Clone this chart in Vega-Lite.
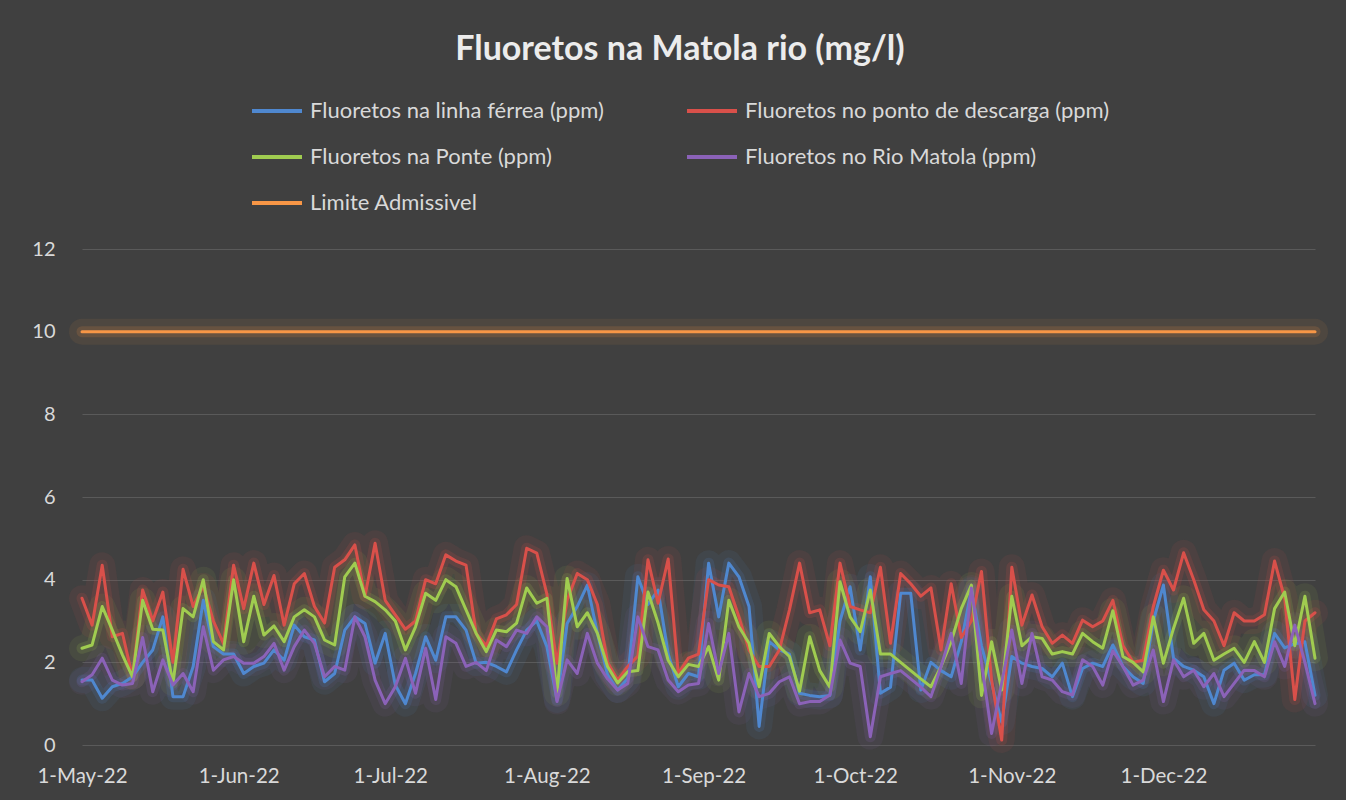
{
"$schema": "https://vega.github.io/schema/vega-lite/v6.json",
"width": 1233, "height": 496,
"autosize": {"type": "none"},
"padding": {"left": 82, "top": 249, "right": 31, "bottom": 55},
"background": "#404040",
"title": {"text": "Fluoretos na Matola rio (mg/l)", "font": "Lato", "fontSize": 34, "fontWeight": "bold", "color": "#ececec", "anchor": "middle", "frame": "bounds", "offset": 17},
"datasets": {"m": [
{"d":"2022-05-01","B":1.57,"R":3.55,"G":2.34,"P":1.53,"L":10},
{"d":"2022-05-03","B":1.57,"R":2.9,"G":2.42,"P":1.7,"L":10},
{"d":"2022-05-05","B":1.13,"R":4.35,"G":3.35,"P":2.1,"L":10},
{"d":"2022-05-07","B":1.41,"R":2.62,"G":2.78,"P":1.57,"L":10},
{"d":"2022-05-09","B":1.49,"R":2.7,"G":2.18,"P":1.45,"L":10},
{"d":"2022-05-11","B":1.65,"R":1.65,"G":1.65,"P":1.49,"L":10},
{"d":"2022-05-13","B":2.0,"R":3.75,"G":3.5,"P":2.6,"L":10},
{"d":"2022-05-15","B":2.3,"R":3.0,"G":2.8,"P":1.29,"L":10},
{"d":"2022-05-17","B":3.1,"R":3.7,"G":2.78,"P":2.06,"L":10},
{"d":"2022-05-19","B":1.17,"R":2.0,"G":1.5,"P":1.45,"L":10},
{"d":"2022-05-21","B":1.17,"R":4.25,"G":3.3,"P":1.73,"L":10},
{"d":"2022-05-23","B":1.9,"R":3.35,"G":3.1,"P":1.29,"L":10},
{"d":"2022-05-25","B":3.5,"R":3.85,"G":4.0,"P":2.86,"L":10},
{"d":"2022-05-27","B":2.38,"R":3.0,"G":2.5,"P":1.81,"L":10},
{"d":"2022-05-29","B":2.2,"R":2.45,"G":2.3,"P":2.06,"L":10},
{"d":"2022-05-31","B":2.2,"R":4.35,"G":4.0,"P":2.14,"L":10},
{"d":"2022-06-02","B":1.73,"R":3.3,"G":2.5,"P":1.98,"L":10},
{"d":"2022-06-04","B":1.9,"R":4.4,"G":3.6,"P":1.98,"L":10},
{"d":"2022-06-06","B":1.98,"R":3.4,"G":2.66,"P":2.14,"L":10},
{"d":"2022-06-08","B":2.3,"R":4.1,"G":2.88,"P":2.46,"L":10},
{"d":"2022-06-10","B":2.05,"R":2.9,"G":2.5,"P":1.81,"L":10},
{"d":"2022-06-12","B":2.9,"R":3.9,"G":3.1,"P":2.38,"L":10},
{"d":"2022-06-14","B":2.62,"R":4.15,"G":3.27,"P":2.78,"L":10},
{"d":"2022-06-16","B":2.54,"R":3.35,"G":3.1,"P":2.46,"L":10},
{"d":"2022-06-18","B":1.53,"R":2.95,"G":2.54,"P":1.65,"L":10},
{"d":"2022-06-20","B":1.73,"R":4.3,"G":2.42,"P":1.9,"L":10},
{"d":"2022-06-22","B":2.78,"R":4.48,"G":4.07,"P":1.81,"L":10},
{"d":"2022-06-24","B":3.1,"R":4.84,"G":4.4,"P":3.1,"L":10},
{"d":"2022-06-26","B":2.94,"R":3.6,"G":3.6,"P":2.62,"L":10},
{"d":"2022-06-28","B":1.98,"R":4.88,"G":3.47,"P":1.57,"L":10},
{"d":"2022-06-30","B":2.7,"R":3.5,"G":3.27,"P":1.0,"L":10},
{"d":"2022-07-02","B":1.45,"R":3.15,"G":3.0,"P":1.41,"L":10},
{"d":"2022-07-04","B":1.0,"R":2.8,"G":2.3,"P":2.1,"L":10},
{"d":"2022-07-06","B":1.73,"R":3.0,"G":2.86,"P":1.25,"L":10},
{"d":"2022-07-08","B":2.62,"R":4.0,"G":3.67,"P":2.34,"L":10},
{"d":"2022-07-10","B":2.05,"R":3.9,"G":3.5,"P":1.1,"L":10},
{"d":"2022-07-12","B":3.1,"R":4.6,"G":4.0,"P":2.62,"L":10},
{"d":"2022-07-14","B":3.1,"R":4.45,"G":3.83,"P":2.46,"L":10},
{"d":"2022-07-16","B":2.78,"R":4.35,"G":3.27,"P":1.9,"L":10},
{"d":"2022-07-18","B":1.98,"R":2.7,"G":2.7,"P":2.0,"L":10},
{"d":"2022-07-20","B":2.0,"R":2.4,"G":2.26,"P":1.8,"L":10},
{"d":"2022-07-22","B":1.9,"R":3.05,"G":2.78,"P":2.54,"L":10},
{"d":"2022-07-24","B":1.77,"R":3.15,"G":2.74,"P":2.38,"L":10},
{"d":"2022-07-26","B":2.3,"R":3.4,"G":2.95,"P":2.78,"L":10},
{"d":"2022-07-28","B":2.78,"R":4.76,"G":3.8,"P":2.7,"L":10},
{"d":"2022-07-30","B":3.0,"R":4.64,"G":3.43,"P":3.1,"L":10},
{"d":"2022-08-01","B":2.38,"R":3.65,"G":3.55,"P":2.86,"L":10},
{"d":"2022-08-03","B":1.09,"R":1.98,"G":1.25,"P":1.05,"L":10},
{"d":"2022-08-05","B":2.94,"R":3.5,"G":4.03,"P":2.06,"L":10},
{"d":"2022-08-07","B":3.35,"R":4.15,"G":2.86,"P":1.73,"L":10},
{"d":"2022-08-09","B":3.87,"R":4.0,"G":3.2,"P":2.7,"L":10},
{"d":"2022-08-11","B":2.7,"R":3.4,"G":2.7,"P":1.98,"L":10},
{"d":"2022-08-13","B":1.7,"R":2.0,"G":1.9,"P":1.6,"L":10},
{"d":"2022-08-15","B":1.33,"R":1.57,"G":1.5,"P":1.33,"L":10},
{"d":"2022-08-17","B":1.61,"R":1.9,"G":1.77,"P":1.49,"L":10},
{"d":"2022-08-19","B":4.07,"R":2.15,"G":1.8,"P":3.1,"L":10},
{"d":"2022-08-21","B":3.4,"R":4.48,"G":3.7,"P":2.38,"L":10},
{"d":"2022-08-23","B":3.75,"R":3.43,"G":2.95,"P":2.3,"L":10},
{"d":"2022-08-25","B":2.2,"R":4.5,"G":2.05,"P":1.57,"L":10},
{"d":"2022-08-27","B":1.41,"R":1.73,"G":1.65,"P":1.29,"L":10},
{"d":"2022-08-29","B":1.73,"R":2.1,"G":1.95,"P":1.45,"L":10},
{"d":"2022-08-31","B":1.65,"R":2.2,"G":1.9,"P":1.49,"L":10},
{"d":"2022-09-02","B":4.4,"R":4.0,"G":2.38,"P":2.94,"L":10},
{"d":"2022-09-04","B":3.1,"R":3.87,"G":1.57,"P":1.73,"L":10},
{"d":"2022-09-06","B":4.4,"R":3.83,"G":3.5,"P":2.7,"L":10},
{"d":"2022-09-08","B":4.07,"R":3.1,"G":2.86,"P":0.8,"L":10},
{"d":"2022-09-10","B":3.35,"R":2.3,"G":2.46,"P":1.73,"L":10},
{"d":"2022-09-12","B":0.45,"R":1.9,"G":1.41,"P":1.17,"L":10},
{"d":"2022-09-14","B":2.5,"R":1.9,"G":2.7,"P":1.25,"L":10},
{"d":"2022-09-16","B":2.3,"R":2.3,"G":2.38,"P":1.53,"L":10},
{"d":"2022-09-18","B":2.2,"R":3.27,"G":2.14,"P":1.65,"L":10},
{"d":"2022-09-20","B":1.25,"R":4.4,"G":1.3,"P":1.0,"L":10},
{"d":"2022-09-22","B":1.2,"R":3.2,"G":2.62,"P":1.05,"L":10},
{"d":"2022-09-24","B":1.17,"R":3.27,"G":1.8,"P":1.05,"L":10},
{"d":"2022-09-26","B":1.2,"R":2.4,"G":1.4,"P":1.21,"L":10},
{"d":"2022-09-28","B":3.0,"R":4.4,"G":3.95,"P":2.54,"L":10},
{"d":"2022-09-30","B":3.83,"R":3.35,"G":3.1,"P":1.98,"L":10},
{"d":"2022-10-02","B":2.3,"R":3.27,"G":2.74,"P":1.9,"L":10},
{"d":"2022-10-04","B":4.07,"R":3.2,"G":3.75,"P":0.2,"L":10},
{"d":"2022-10-06","B":1.25,"R":4.3,"G":2.2,"P":1.65,"L":10},
{"d":"2022-10-08","B":1.4,"R":2.46,"G":2.2,"P":1.73,"L":10},
{"d":"2022-10-10","B":3.67,"R":4.15,"G":2.0,"P":1.8,"L":10},
{"d":"2022-10-12","B":3.67,"R":3.9,"G":1.8,"P":1.6,"L":10},
{"d":"2022-10-14","B":1.33,"R":3.6,"G":1.6,"P":1.4,"L":10},
{"d":"2022-10-16","B":2.0,"R":3.8,"G":1.41,"P":1.17,"L":10},
{"d":"2022-10-18","B":1.8,"R":2.3,"G":1.9,"P":1.9,"L":10},
{"d":"2022-10-20","B":1.65,"R":3.9,"G":2.5,"P":2.7,"L":10},
{"d":"2022-10-22","B":2.5,"R":2.6,"G":3.3,"P":1.49,"L":10},
{"d":"2022-10-24","B":3.75,"R":3.0,"G":3.87,"P":3.8,"L":10},
{"d":"2022-10-26","B":2.4,"R":4.2,"G":1.2,"P":2.0,"L":10},
{"d":"2022-10-28","B":1.5,"R":1.57,"G":2.5,"P":0.28,"L":10},
{"d":"2022-10-30","B":0.55,"R":0.12,"G":1.33,"P":1.5,"L":10},
{"d":"2022-11-01","B":2.14,"R":4.3,"G":3.6,"P":2.78,"L":10},
{"d":"2022-11-03","B":1.98,"R":2.9,"G":2.4,"P":1.49,"L":10},
{"d":"2022-11-05","B":1.9,"R":3.63,"G":2.62,"P":2.7,"L":10},
{"d":"2022-11-07","B":1.85,"R":2.86,"G":2.58,"P":1.65,"L":10},
{"d":"2022-11-09","B":1.65,"R":2.46,"G":2.2,"P":1.57,"L":10},
{"d":"2022-11-11","B":1.98,"R":2.66,"G":2.26,"P":1.29,"L":10},
{"d":"2022-11-13","B":1.17,"R":2.46,"G":2.2,"P":1.21,"L":10},
{"d":"2022-11-15","B":1.85,"R":3.02,"G":2.7,"P":2.06,"L":10},
{"d":"2022-11-17","B":1.98,"R":2.86,"G":2.5,"P":1.9,"L":10},
{"d":"2022-11-19","B":1.9,"R":3.0,"G":2.34,"P":1.45,"L":10},
{"d":"2022-11-21","B":2.42,"R":3.5,"G":3.25,"P":2.28,"L":10},
{"d":"2022-11-23","B":1.9,"R":2.4,"G":2.14,"P":1.9,"L":10},
{"d":"2022-11-25","B":1.65,"R":2.0,"G":2.0,"P":1.45,"L":10},
{"d":"2022-11-27","B":1.49,"R":2.05,"G":1.77,"P":1.57,"L":10},
{"d":"2022-11-29","B":3.0,"R":3.35,"G":3.1,"P":2.3,"L":10},
{"d":"2022-12-01","B":3.87,"R":4.23,"G":1.98,"P":1.05,"L":10},
{"d":"2022-12-03","B":2.1,"R":3.75,"G":2.82,"P":2.06,"L":10},
{"d":"2022-12-05","B":1.9,"R":4.65,"G":3.55,"P":1.65,"L":10},
{"d":"2022-12-07","B":1.81,"R":4.0,"G":2.46,"P":1.81,"L":10},
{"d":"2022-12-09","B":1.65,"R":3.27,"G":2.7,"P":1.41,"L":10},
{"d":"2022-12-11","B":1.0,"R":3.0,"G":2.05,"P":1.73,"L":10},
{"d":"2022-12-13","B":1.81,"R":2.4,"G":2.2,"P":1.17,"L":10},
{"d":"2022-12-15","B":1.98,"R":3.2,"G":2.34,"P":1.49,"L":10},
{"d":"2022-12-17","B":1.57,"R":3.0,"G":2.0,"P":1.81,"L":10},
{"d":"2022-12-19","B":1.7,"R":3.0,"G":2.5,"P":1.8,"L":10},
{"d":"2022-12-21","B":1.7,"R":3.15,"G":2.0,"P":1.65,"L":10},
{"d":"2022-12-23","B":2.7,"R":4.45,"G":3.3,"P":2.5,"L":10},
{"d":"2022-12-25","B":2.35,"R":3.55,"G":3.7,"P":1.9,"L":10},
{"d":"2022-12-27","B":2.45,"R":1.1,"G":2.4,"P":2.9,"L":10},
{"d":"2022-12-29","B":2.5,"R":3.0,"G":3.6,"P":2.0,"L":10},
{"d":"2022-12-31","B":1.2,"R":3.2,"G":2.1,"P":1.0,"L":10}
]},
"data": {"name": "m"},
"transform": [{"fold": ["B", "R", "G", "P", "L"], "as": ["s", "v"]}],
"encoding": {
  "x": {"field": "d", "type": "temporal", "title": null,
        "scale": {"type": "utc", "domain": [{"year": 2022, "month": 5, "date": 1, "utc": true}, {"year": 2022, "month": 12, "date": 31, "utc": true}], "nice": false},
        "axis": {"format": "%-d-%b-%y", "tickCount": {"interval": "month", "step": 1}, "labelFontSize": 20.5, "labelColor": "#d9d9d9", "labelPadding": 21, "ticks": false, "domain": false, "grid": false, "labelOverlap": false, "labelFlush": false}},
  "y": {"field": "v", "type": "quantitative", "title": null,
        "scale": {"domain": [0, 12], "nice": false},
        "axis": {"values": [0, 2, 4, 6, 8, 10, 12], "labelFontSize": 20, "labelColor": "#d9d9d9", "labelPadding": 27, "ticks": false, "domain": false, "grid": true, "gridColor": "#5a5a5a", "gridWidth": 1}}
},
"layer": [
  {"mark": {"type": "line", "strokeWidth": 26, "opacity": 0.08, "strokeCap": "round", "strokeJoin": "round"},
   "encoding": {"color": {"field": "s", "type": "nominal", "legend": null}}},
  {"mark": {"type": "line", "strokeWidth": 11, "opacity": 0.15, "strokeCap": "round", "strokeJoin": "round"},
   "encoding": {"color": {"field": "s", "type": "nominal", "legend": null}}},
  {"mark": {"type": "line", "strokeCap": "round", "strokeJoin": "round"},
   "encoding": {
     "strokeWidth": {"field": "s", "type": "nominal", "legend": null, "scale": {"domain": ["B", "R", "G", "P", "L"], "range": [3, 3, 3, 3, 4]}},
     "color": {"field": "s", "type": "nominal",
       "scale": {"domain": ["B", "R", "G", "P", "L"], "range": ["#4f88d0", "#d9504a", "#a0cc50", "#8b62b8", "#f79646"]},
       "legend": {"title": null, "orient": "none", "legendX": 168, "legendY": -165, "columns": 2, "direction": "horizontal",
         "symbolType": "stroke", "symbolSize": 2500, "symbolStrokeWidth": 4, "symbolOpacity": 1,
         "labelFont": "Lato", "labelFontSize": 22, "labelColor": "#d9d9d9", "labelOffset": 6, "labelLimit": 600,
         "columnPadding": 75, "rowPadding": 8,
         "labelExpr": "datum.label == 'B' ? 'Fluoretos na linha férrea (ppm)' : datum.label == 'R' ? 'Fluoretos no ponto de descarga (ppm)' : datum.label == 'G' ? 'Fluoretos na Ponte (ppm)' : datum.label == 'P' ? 'Fluoretos no Rio Matola (ppm)' : 'Limite Admissivel'"}}}}
],
"resolve": {"legend": {"color": "independent"}},
"config": {"view": {"stroke": null}, "font": "Lato", "axis": {"labelFont": "Lato"}}
}
